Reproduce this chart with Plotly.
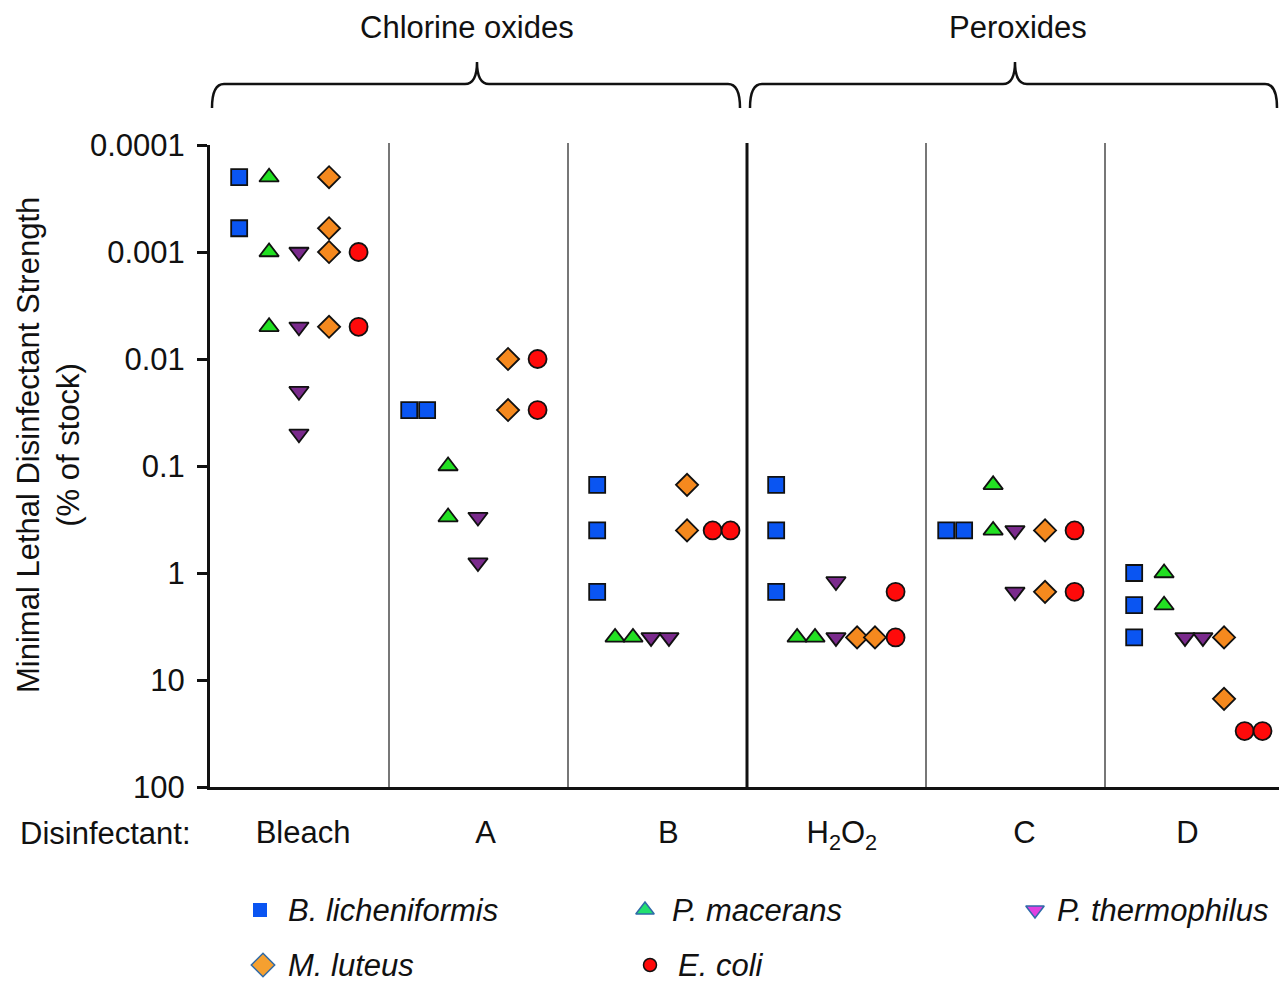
import plotly.graph_objects as go

# ---------------- data ----------------
categories = ["Bleach", "A", "B", "H<sub>2</sub>O<sub>2</sub>", "C", "D"]
species = ["B. licheniformis", "P. macerans", "P. thermophilus", "M. luteus", "E. coli"]

# values per disinfectant (Bleach, A, B, H2O2, C, D), % of stock
b_licheniformis = [[0.0002, 0.0006], [0.03, 0.03], [0.15, 0.4, 1.5], [0.15, 0.4, 1.5], [0.4, 0.4], [1, 2, 4]]
p_macerans = [[0.0002, 0.001, 0.005], [0.1, 0.3], [4, 4], [4, 4], [0.15, 0.4], [1, 2]]
p_thermophilus = [[0.001, 0.005, 0.02, 0.05], [0.3, 0.8], [4, 4], [1.2, 4], [0.4, 1.5], [4, 4]]
m_luteus = [[0.0002, 0.0006, 0.001, 0.005], [0.01, 0.03], [0.15, 0.4], [4, 4], [0.4, 1.5], [4, 15]]
e_coli = [[0.001, 0.005], [0.01, 0.03], [0.4, 0.4], [1.5, 4], [0.4, 1.5], [30, 30]]

y_tick_vals = [0.0001, 0.001, 0.01, 0.1, 1, 10, 100]
y_tick_text = ["0.0001", "0.001", "0.01", "0.1", "1", "10", "100"]
groups = ["Chlorine oxides", "Peroxides"]

series = [b_licheniformis, p_macerans, p_thermophilus, m_luteus, e_coli]

# ---------------- layout helpers ----------------
W, H = 1279, 984
L, T = 210, 145
PW, PH = W - L, H - T
UNIT = 179.0
FONT = "Arial, Liberation Sans, sans-serif"
FS = 31


def xp(px):
    return (px - L) / PW


def yp(py):
    return (H - py) / PH


styles = [
    dict(symbol="square", color="#0a55f2", size=16),
    dict(symbol="triangle-up", color="#22e022", size=17),
    dict(symbol="triangle-down", color="#7a2a8c", size=17),
    dict(symbol="diamond", color="#f5891e", size=17),
    dict(symbol="circle", color="#ff0a0a", size=18),
]
base_off = [0.163, 0.33, 0.497, 0.665, 0.83]
dup_gap = 0.05
nudge = {(1, 2): -0.017, (2, 2): 0.017, (4, 2): 0.028, (1, 4): 0.045}
label_pos = [0.52, 1.54, 2.56, 3.53, 4.55, 5.46]

fig = go.Figure()

for s, (name, data, st) in enumerate(zip(species, series, styles)):
    xs, ys = [], []
    for c, vals in enumerate(data):
        counts = {v: vals.count(v) for v in vals}
        seen = {}
        for v in vals:
            n = counts[v]
            k = seen.get(v, 0)
            seen[v] = k + 1
            off = (k - (n - 1) / 2) * 2 * dup_gap if n > 1 else 0.0
            xs.append(c + base_off[s] + off + nudge.get((s, c), 0.0))
            ys.append(v)
    fig.add_trace(go.Scatter(
        x=xs, y=ys, mode="markers", name=name, showlegend=False,
        xaxis="x", yaxis="y",
        marker=dict(symbol=st["symbol"], color=st["color"], size=st["size"],
                    line=dict(color="#111111", width=1.8)),
    ))

# ---------------- manual legend (pixel-mapped helper axes) ----------------
leg_markers = [
    dict(symbol="square", color="#0a55f2", size=14, lc="#0a55f2", lw=0),
    dict(symbol="triangle-up", color="#22e070", size=16, lc="#2f6aa8", lw=1.5),
    dict(symbol="triangle-down", color="#e040e0", size=16, lc="#2f6aa8", lw=1.5),
    dict(symbol="diamond", color="#f5a030", size=18, lc="#2f6aa8", lw=1.5),
    dict(symbol="circle", color="#ff0a0a", size=13, lc="#111111", lw=1.5),
]
leg_mx = [260, 645, 1035, 263, 650]
leg_tx = [286, 670, 1055, 286, 676]
leg_y = [910, 910, 910, 965, 965]
for i, m in enumerate(leg_markers):
    fig.add_trace(go.Scatter(
        x=[leg_mx[i]], y=[leg_y[i]], mode="markers", showlegend=False,
        xaxis="x2", yaxis="y2", hoverinfo="skip",
        marker=dict(symbol=m["symbol"], color=m["color"], size=m["size"],
                    line=dict(color=m["lc"], width=m["lw"])),
    ))
    fig.add_annotation(x=leg_tx[i], y=leg_y[i], xref="x2", yref="y2",
                       text="<i>" + species[i] + "</i>", showarrow=False,
                       xanchor="left", yanchor="middle",
                       font=dict(family=FONT, size=FS, color="#111111"))

shapes = []
# vertical dividers
for k in range(1, 6):
    shapes.append(dict(type="line", xref="x", yref="paper", x0=k, x1=k,
                       y0=yp(787), y1=yp(143),
                       line=dict(color="#111111" if k == 3 else "#4a4a4a",
                                 width=3 if k == 3 else 1.5)))


def brace(x_a, x_b, x_m, y_base=84, y_tip=108, y_peak=62, r=12):
    pts = [
        f"M {xp(x_a)},{yp(y_tip)}",
        f"Q {xp(x_a)},{yp(y_base)} {xp(x_a + r)},{yp(y_base)}",
        f"L {xp(x_m - r)},{yp(y_base)}",
        f"Q {xp(x_m)},{yp(y_base)} {xp(x_m)},{yp(y_peak)}",
        f"Q {xp(x_m)},{yp(y_base)} {xp(x_m + r)},{yp(y_base)}",
        f"L {xp(x_b - r)},{yp(y_base)}",
        f"Q {xp(x_b)},{yp(y_base)} {xp(x_b)},{yp(y_tip)}",
    ]
    return dict(type="path", xref="paper", yref="paper", path=" ".join(pts),
                line=dict(color="#111111", width=2.5))


shapes.append(brace(212, 740, 477))
shapes.append(brace(750, 1277, 1015))

annotations = [
    dict(x=xp(467), y=yp(27), xref="paper", yref="paper", text=groups[0]),
    dict(x=xp(1018), y=yp(27), xref="paper", yref="paper", text=groups[1]),
    dict(x=xp(105), y=yp(833), xref="paper", yref="paper", text="Disinfectant:"),
    dict(x=xp(48), y=yp(445), xref="paper", yref="paper", textangle=-90,
         text="Minimal Lethal Disinfectant Strength<br>(% of stock)"),
]
for a in annotations:
    fig.add_annotation(showarrow=False, xanchor="center", yanchor="middle",
                       font=dict(family=FONT, size=FS, color="#111111"), **a)

fig.update_layout(
    width=W, height=H,
    margin=dict(l=L, r=0, t=T, b=0, pad=0, autoexpand=False),
    paper_bgcolor="white", plot_bgcolor="white",
    font=dict(family=FONT, size=FS, color="#111111"),
    showlegend=False,
    shapes=shapes,
    xaxis=dict(domain=[0, 1], range=[0, PW / UNIT], anchor="y", automargin=False,
               showgrid=False, zeroline=False, showline=True, linecolor="#111111",
               linewidth=3, ticks="", tickvals=label_pos, ticktext=categories,
               ticklabelstandoff=16, tickfont=dict(family=FONT, size=FS, color="#111111")),
    yaxis=dict(domain=[yp(787), 1], type="log", range=[2, -4], anchor="x", automargin=False,
               showgrid=False, zeroline=False, showline=True, linecolor="#111111",
               linewidth=3, ticks="outside", ticklen=10, tickwidth=2.5,
               tickcolor="#111111", tickvals=y_tick_vals, ticktext=y_tick_text,
               ticklabelstandoff=6, tickfont=dict(family=FONT, size=FS, color="#111111")),
    xaxis2=dict(domain=[0, 1], range=[L, W], anchor="y2", visible=False, automargin=False),
    yaxis2=dict(domain=[0, yp(880)], range=[H, 880], anchor="x2", visible=False, automargin=False),
)

fig.write_html("out.html", config={"displayModeBar": False},
               post_script="document.body.style.margin='0';document.body.style.overflow='hidden';")
